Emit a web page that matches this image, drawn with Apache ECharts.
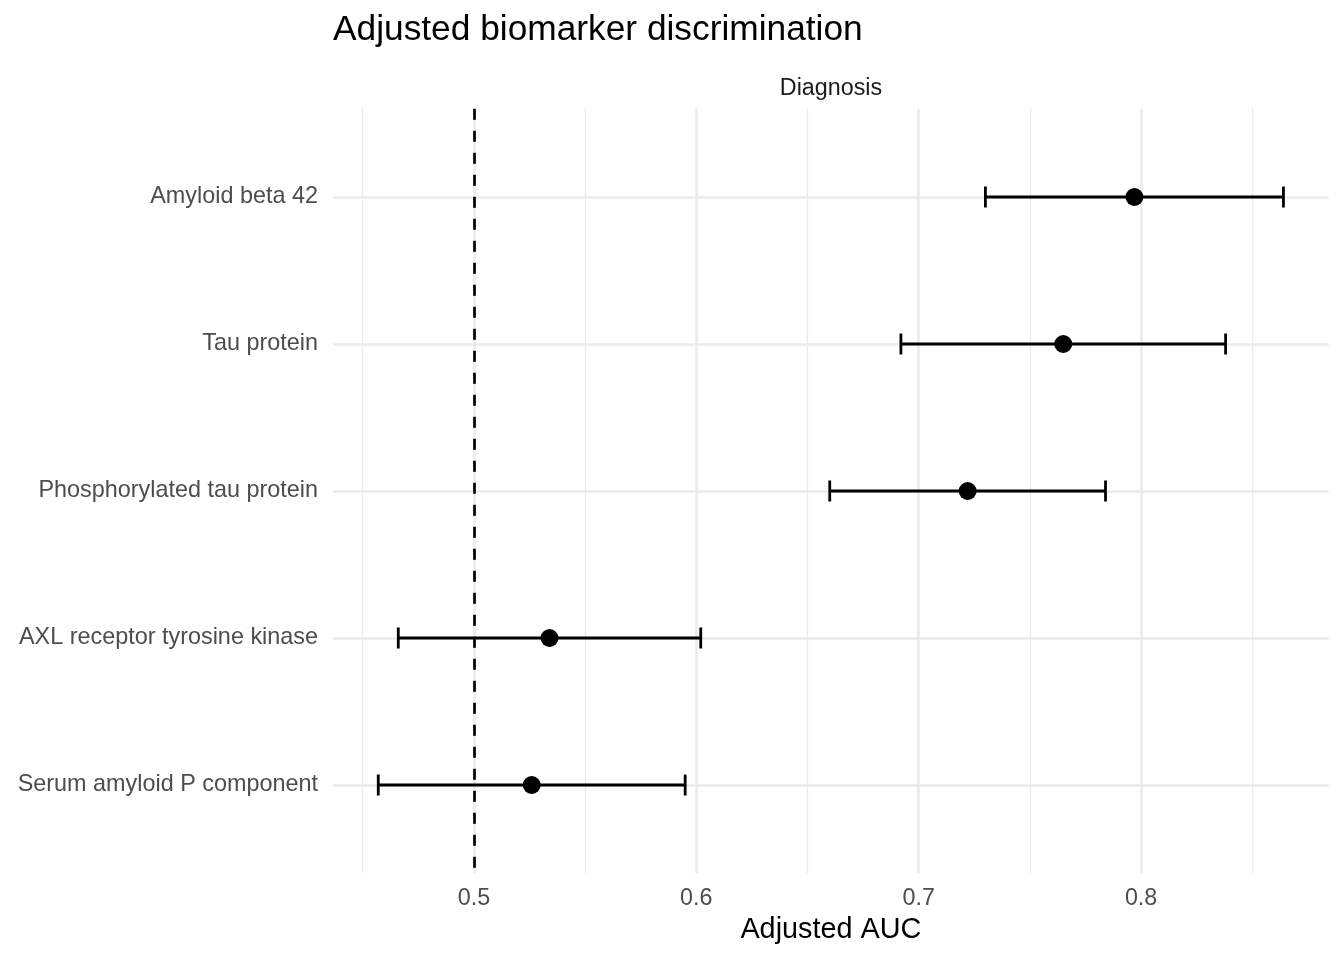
<!DOCTYPE html>
<html>
<head>
<meta charset="utf-8">
<script src="https://cdn.jsdelivr.net/npm/echarts@6/dist/echarts.min.js"></script>
<style>
html,body{margin:0;padding:0;background:#fff;}
#chart{width:1344px;height:960px;}
</style>
</head>
<body>
<div id="chart"></div>
<script>
// ---- data ----
var categories = ['Amyloid beta 42', 'Tau protein', 'Phosphorylated tau protein', 'AXL receptor tyrosine kinase', 'Serum amyloid P component'];
var estimates = [0.797, 0.765, 0.722, 0.534, 0.526];
var lowers    = [0.730, 0.692, 0.660, 0.466, 0.457];
var uppers    = [0.864, 0.838, 0.784, 0.602, 0.595];
var majorTicks = [0.5, 0.6, 0.7, 0.8];
var minorTicks = [0.45, 0.55, 0.65, 0.75, 0.85];
var referenceLine = 0.5;
var titleText = 'Adjusted biomarker discrimination';
var stripText = 'Diagnosis';
var xTitle = 'Adjusted AUC';

// ggplot-like 5% expansion of the data range
var dataMin = Math.min.apply(null, lowers);
var dataMax = Math.max.apply(null, uppers);
var pad = (dataMax - dataMin) * 0.05;
var xMin = dataMin - pad, xMax = dataMax + pad;
var catIdx = categories.map(function (c, i) { return i; });

var font = '"Liberation Sans", Arial, sans-serif';
var chart = echarts.init(document.getElementById('chart'), null, {renderer: 'canvas'});

var errData = categories.map(function (c, i) { return [lowers[i], uppers[i], i]; });
var ptData = categories.map(function (c, i) { return [estimates[i], i]; });

chart.setOption({
  animation: false,
  backgroundColor: '#ffffff',
  title: [
    {text: titleText, left: 328, top: 8,
     textStyle: {fontFamily: font, fontSize: 35.3, fontWeight: 'normal', color: '#000000'}},
    {text: stripText, left: 826, textAlign: 'center', top: 72,
     textStyle: {fontFamily: font, fontSize: 23.3, fontWeight: 'normal', color: '#1a1a1a'}}
  ],
  grid: {left: 333, right: 15.3, top: 108.8, bottom: 86.8, containLabel: false},
  xAxis: [
    {type: 'value', min: xMin, max: xMax,
     name: xTitle, nameLocation: 'middle', nameGap: 42,
     nameTextStyle: {fontFamily: font, fontSize: 28.8, color: '#000000'},
     axisLine: {show: false},
     axisTick: {show: false, customValues: majorTicks},
     axisLabel: {show: true, customValues: majorTicks, margin: 14,
       fontFamily: font, fontSize: 23.3, color: '#4d4d4d',
       formatter: function (v) { return String(Math.round(v * 10) / 10); }},
     splitLine: {show: true, lineStyle: {color: '#ebebeb', width: 2.6}}
    },
    {type: 'value', min: xMin, max: xMax, position: 'bottom',
     axisLine: {show: false},
     axisTick: {show: false, customValues: minorTicks},
     axisLabel: {show: false, customValues: minorTicks},
     splitLine: {show: true, lineStyle: {color: '#ebebeb', width: 1.3}}
    }
  ],
  yAxis: {
    type: 'value', inverse: true, min: -0.6, max: 4.6,
    axisLine: {show: false},
    axisTick: {show: false, customValues: catIdx},
    axisLabel: {show: true, customValues: catIdx, margin: 15,
      padding: [5, 0, 0, 0],
      fontFamily: font, fontSize: 23.4, color: '#4d4d4d',
      formatter: function (v) { return categories[Math.round(v)] || ''; }},
    splitLine: {show: true, lineStyle: {color: '#ebebeb', width: 2.6}}
  },
  series: [
    {
      type: 'custom', xAxisIndex: 0, yAxisIndex: 0, silent: true, z: 3,
      data: errData,
      encode: {x: [0, 1], y: 2},
      renderItem: function (params, api) {
        var y = api.value(2);
        var p1 = api.coord([api.value(0), y]);
        var p2 = api.coord([api.value(1), y]);
        var h = 10.5;
        var st = {stroke: '#000000', lineWidth: 2.8, fill: null};
        return {type: 'group', children: [
          {type: 'line', shape: {x1: p1[0], y1: p1[1], x2: p2[0], y2: p2[1]}, style: st},
          {type: 'line', shape: {x1: p1[0], y1: p1[1] - h, x2: p1[0], y2: p1[1] + h}, style: st},
          {type: 'line', shape: {x1: p2[0], y1: p2[1] - h, x2: p2[0], y2: p2[1] + h}, style: st}
        ]};
      }
    },
    {
      type: 'scatter', xAxisIndex: 0, yAxisIndex: 0, silent: true, z: 4,
      data: ptData, symbol: 'circle', symbolSize: 18,
      itemStyle: {color: '#000000', opacity: 1},
      markLine: {
        silent: true, symbol: ['none', 'none'], z: 2,
        label: {show: false},
        lineStyle: {color: '#000000', width: 2.7, type: [11, 11], opacity: 1},
        data: [{xAxis: referenceLine}]
      }
    }
  ]
});
</script>
</body>
</html>
